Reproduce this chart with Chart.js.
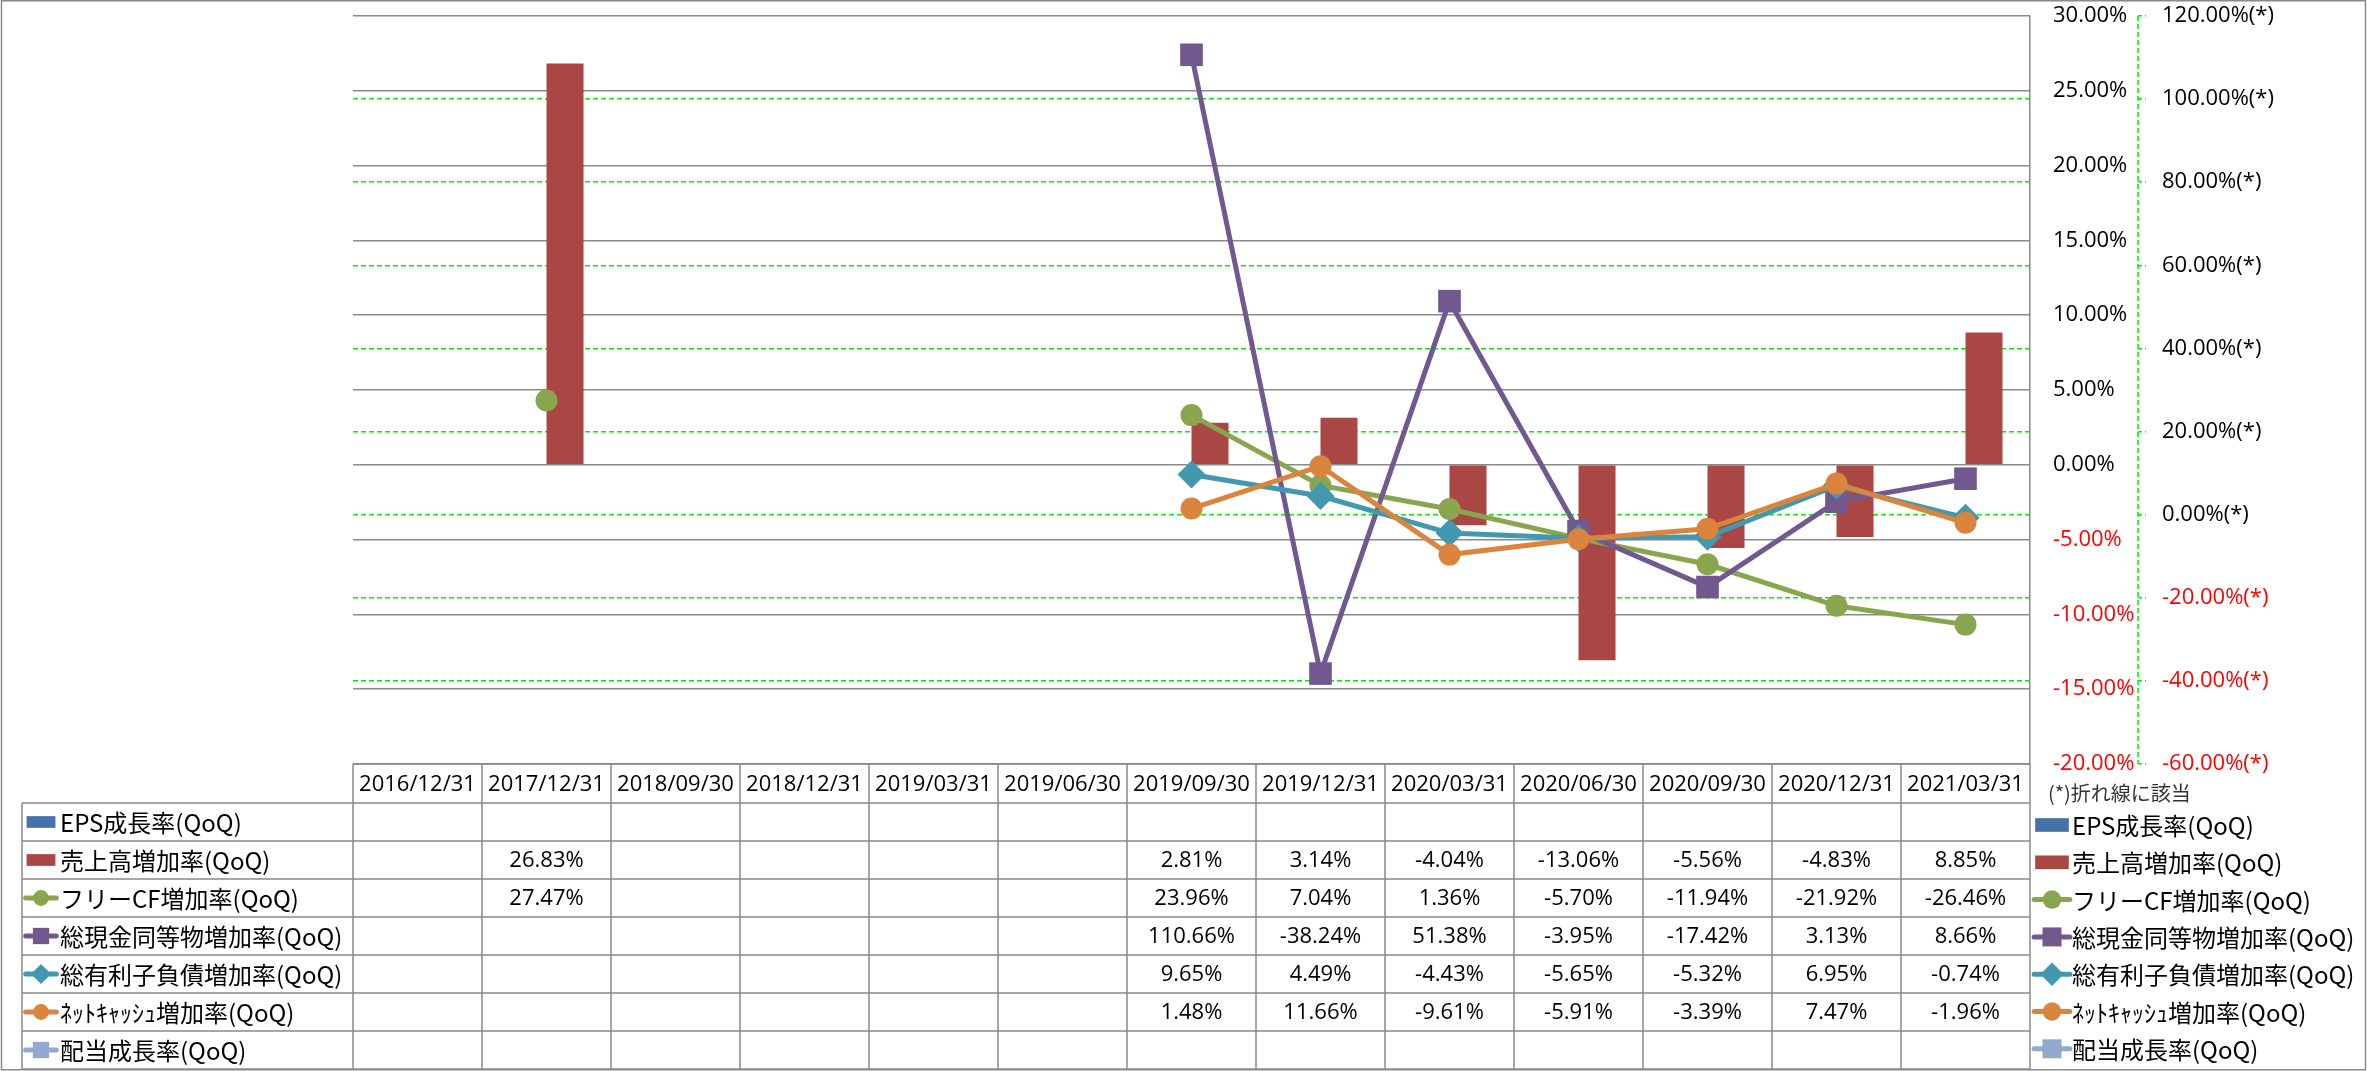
<!DOCTYPE html>
<html>
<head>
<meta charset="utf-8">
<script src="https://cdn.jsdelivr.net/npm/chart.js@4.4.0/dist/chart.umd.min.js"></script>
<style>
  html, body { margin: 0; padding: 0; background: #fff; }
  canvas { display: block; }
</style>
</head>
<body>
<canvas id="myChart" width="2367" height="1071"></canvas>
<script>
const labels = ['2016/12/31', '2017/12/31', '2018/09/30', '2018/12/31', '2019/03/31', '2019/06/30',
                '2019/09/30', '2019/12/31', '2020/03/31', '2020/06/30', '2020/09/30', '2020/12/31', '2021/03/31'];

const seriesNames = ['EPS成長率(QoQ)', '売上高増加率(QoQ)', 'フリーCF増加率(QoQ)', '総現金同等物増加率(QoQ)',
                     '総有利子負債増加率(QoQ)', 'ﾈｯﾄｷｬｯｼｭ増加率(QoQ)', '配当成長率(QoQ)'];

const epsGrowth      = [null, null, null, null, null, null, null, null, null, null, null, null, null];
const salesGrowth    = [null, 26.83, null, null, null, null, 2.81, 3.14, -4.04, -13.06, -5.56, -4.83, 8.85];
const fcfGrowth      = [null, 27.47, null, null, null, null, 23.96, 7.04, 1.36, -5.70, -11.94, -21.92, -26.46];
const cashGrowth     = [null, null, null, null, null, null, 110.66, -38.24, 51.38, -3.95, -17.42, 3.13, 8.66];
const debtGrowth     = [null, null, null, null, null, null, 9.65, 4.49, -4.43, -5.65, -5.32, 6.95, -0.74];
const netCashGrowth  = [null, null, null, null, null, null, 1.48, 11.66, -9.61, -5.91, -3.39, 7.47, -1.96];
const dividendGrowth = [null, null, null, null, null, null, null, null, null, null, null, null, null];

// tick labels (bars on the left scale, lines on the (*) scale)
const barTicks  = [30, 25, 20, 15, 10, 5, 0, -5, -10, -15, -20];
const lineTicks = [120, 100, 80, 60, 40, 20, 0, -20, -40, -60];

const colors = ['#4572A7', '#AA4643', '#89A54E', '#71588F', '#4198AF', '#DB843D', '#93A9CF'];
const gridGray = '#8a8a8a';
const green = '#00ee00';
const numFont = '"Open Sans", "Noto Sans CJK JP", sans-serif';
const jpFont = '"Noto Sans CJK JP", "Open Sans", sans-serif';

const rows = [
    { name: seriesNames[0], data: epsGrowth,      color: colors[0], kind: 'bar' },
    { name: seriesNames[1], data: salesGrowth,    color: colors[1], kind: 'bar' },
    { name: seriesNames[2], data: fcfGrowth,      color: colors[2], kind: 'line', style: 'circle',  r: 11 },
    { name: seriesNames[3], data: cashGrowth,     color: colors[3], kind: 'line', style: 'rect',    r: 16 },
    { name: seriesNames[4], data: debtGrowth,     color: colors[4], kind: 'line', style: 'rectRot', r: 14 },
    { name: seriesNames[5], data: netCashGrowth,  color: colors[5], kind: 'line', style: 'circle',  r: 11 },
    { name: seriesNames[6], data: dividendGrowth, color: colors[6], kind: 'line', style: 'rect',    r: 16 }
];

const datasets = rows.map(function(row, i) {
    if (row.kind === 'bar') {
        // bars: EPS gets the left slot, sales the right one; both under the lines
        return {
            type: 'bar',
            label: row.name,
            data: row.data,
            yAxisID: 'y',
            backgroundColor: row.color,
            borderWidth: 0,
            categoryPercentage: 0.574,
            barPercentage: 1.0,
            order: 30 + i
        };
    }
    // later lines end up on top
    return {
        type: 'line',
        label: row.name,
        data: row.data,
        yAxisID: 'y2',
        borderColor: row.color,
        backgroundColor: row.color,
        borderWidth: 5,
        tension: 0,
        pointStyle: row.style,
        pointRadius: row.r,
        pointBorderWidth: 0,
        pointBackgroundColor: row.color,
        order: 20 - i
    };
});

function pct(v) { return v.toFixed(2) + '%'; }

function drawKey(ctx, row, cx, cy, scale) {
    ctx.fillStyle = row.color;
    if (row.kind === 'bar') {
        ctx.fillRect(cx - 16 * scale, cy - 6.5 * scale, 32 * scale, 13 * scale);
        return;
    }
    ctx.strokeStyle = row.color;
    ctx.lineWidth = 5;
    ctx.lineCap = 'round';
    ctx.beginPath();
    ctx.moveTo(cx - 17 * scale, cy);
    ctx.lineTo(cx + 17 * scale, cy);
    ctx.stroke();
    Chart.helpers.drawPoint(ctx, { pointStyle: row.style, radius: row.r * 0.8 * scale, rotation: 0, borderWidth: 0 }, cx, cy);
}

const tablePlugin = {
    id: 'dataTable',
    afterDraw(chart) {
        const { ctx, chartArea, scales } = chart;
        const x = scales.x;
        const colW = x.getPixelForValue(1) - x.getPixelForValue(0);
        const left = chartArea.left, right = chartArea.right;
        const top = chartArea.bottom;
        const headH = 39, rowH = 38;
        const legendLeft = 22;
        const bottom = top + headH + rows.length * rowH;

        ctx.save();
        // secondary axis line (dashed green)
        ctx.strokeStyle = green;
        ctx.lineWidth = 1.5;
        ctx.setLineDash([5, 3]);
        ctx.beginPath();
        ctx.moveTo(scales.y2.left, chartArea.top);
        ctx.lineTo(scales.y2.left, chartArea.bottom);
        ctx.stroke();
        ctx.setLineDash([]);

        // table grid
        ctx.strokeStyle = gridGray;
        ctx.lineWidth = 1.5;
        ctx.beginPath();
        ctx.moveTo(left, top); ctx.lineTo(right, top);
        for (let r = 0; r <= rows.length; r++) {
            const yy = top + headH + r * rowH;
            ctx.moveTo(legendLeft, yy); ctx.lineTo(right, yy);
        }
        for (let i = 0; i <= labels.length; i++) {
            const xx = x.getPixelForValue(0) - colW / 2 + i * colW;
            ctx.moveTo(xx, top); ctx.lineTo(xx, bottom);
        }
        ctx.moveTo(legendLeft, top + headH); ctx.lineTo(legendLeft, bottom);
        ctx.stroke();

        // header dates
        ctx.fillStyle = '#000';
        ctx.font = '22px ' + numFont;
        ctx.textAlign = 'center';
        ctx.textBaseline = 'middle';
        labels.forEach(function(l, i) {
            ctx.fillText(l, x.getPixelForValue(i), top + headH / 2 + 1);
        });

        // rows
        rows.forEach(function(row, r) {
            const cy = top + headH + r * rowH + rowH / 2;
            drawKey(ctx, row, 41, cy, 0.9);
            ctx.fillStyle = '#000';
            ctx.font = '24px ' + jpFont;
            ctx.textAlign = 'left';
            ctx.fillText(row.name, 60, cy + 1);
            ctx.font = '22px ' + numFont;
            ctx.textAlign = 'center';
            row.data.forEach(function(v, i) {
                if (v !== null) ctx.fillText(pct(v), x.getPixelForValue(i), cy + 1);
            });
        });

        // right side note + legend
        ctx.fillStyle = '#333';
        ctx.font = '20px ' + jpFont;
        ctx.textAlign = 'left';
        ctx.fillText('(*)折れ線に該当', 2048, 793);
        rows.forEach(function(row, r) {
            const cy = 825 + r * 37.3;
            drawKey(ctx, row, 2052, cy, 1.05);
            ctx.fillStyle = '#000';
            ctx.font = '24px ' + jpFont;
            ctx.fillText(row.name, 2072, cy + 1);
        });

        // outer frame
        ctx.strokeStyle = gridGray;
        ctx.lineWidth = 1.5;
        ctx.strokeRect(1.5, 0.75, 2364, 1069);
        ctx.restore();
    }
};

const config = {
    data: { labels: labels, datasets: datasets },
    options: {
        responsive: false,
        animation: false,
        devicePixelRatio: 1,
        events: [],
        layout: { padding: { left: 353, top: 15, right: 0, bottom: 307 } },
        plugins: { legend: { display: false }, tooltip: { enabled: false } },
        scales: {
            x: { display: false, offset: true },
            y: {
                position: 'right',
                min: -20, max: 30,
                afterBuildTicks: function(s) { s.ticks = barTicks.map(v => ({ value: v })); },
                afterFit: function(s) { s.width = 108; s.paddingTop = 0; s.paddingBottom = 0; },
                grid: { color: gridGray, lineWidth: 1.5, drawTicks: false },
                border: { display: true, color: gridGray, width: 1.5 },
                ticks: {
                    padding: 23,
                    font: { size: 22, family: numFont },
                    color: function(c) { return c.tick && c.tick.value < 0 ? '#ff0000' : '#000'; },
                    callback: function(v) { return pct(v); }
                }
            },
            y2: {
                position: 'right',
                min: -60, max: 120,
                afterBuildTicks: function(s) { s.ticks = lineTicks.map(v => ({ value: v })); },
                afterFit: function(s) { s.width = 229; s.paddingTop = 0; s.paddingBottom = 0; },
                grid: {
                    // the top and bottom lines sit on the gray frame lines, keep those gray
                    color: function(c) {
                        const v = c.tick ? c.tick.value : 0;
                        return (v === 120 || v === -60) ? 'rgba(0,0,0,0)' : green;
                    },
                    tickColor: green,
                    lineWidth: 1.5, drawTicks: true, tickLength: 8, tickBorderDash: [4, 3]
                },
                border: { display: false, dash: [5, 3] },
                ticks: {
                    padding: 16,
                    font: { size: 22, family: numFont },
                    color: function(c) { return c.tick && c.tick.value < 0 ? '#ff0000' : '#000'; },
                    callback: function(v) { return pct(v) + '(*)'; }
                }
            }
        }
    },
    plugins: [tablePlugin]
};

new Chart(document.getElementById('myChart').getContext('2d'), config);
</script>
</body>
</html>
